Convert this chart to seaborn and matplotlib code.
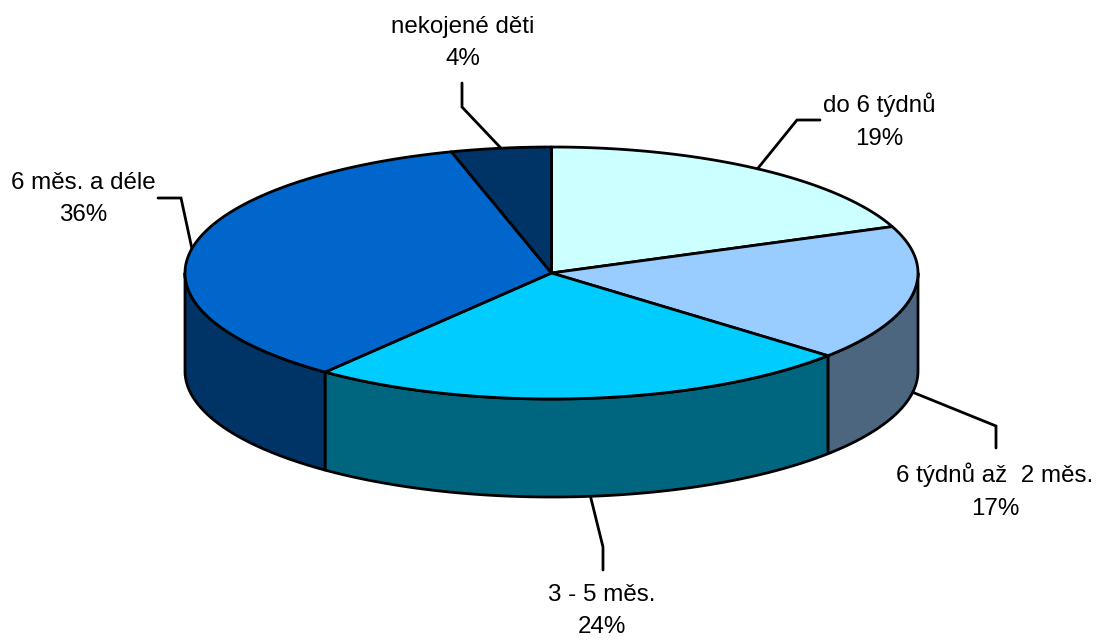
import numpy as np
import matplotlib
matplotlib.use("Agg")
import matplotlib.pyplot as plt
from matplotlib.patches import Polygon
import seaborn as sns

categories = ["do 6 týdnů", "6 týdnů až  2 měs.", "3 - 5 měs.", "6 měs. a déle", "nekojené děti"]
shares = [19.0, 17.4, 24.2, 35.0, 4.4]
percent_labels = ["19%", "17%", "24%", "36%", "4%"]
top_colors = ["#CCFFFF", "#99CCFF", "#00CCFF", "#0066CC", "#003366"]
side_colors = ["#667F80", "#4D6680", "#006680", "#003366", "#001A33"]

CX, CY, RX, RY, DEPTH = 551.5, 273, 366.5, 126, 98
EDGE = 2.0
label_xy = [(879, 121), (995, 491), (602, 611), (83, 199), (463, 43)]
elbows = [[(797, 120), (820, 120)], [(996, 426), (996, 448)], [(603, 547), (603, 570)],
          [(181, 198), (158, 198)], [(462, 107), (462, 83)]]
anchor_shift = [0, 0, -0.7, 0, 0]

sns.set_theme(style="white")
plt.rcParams["font.family"] = ["Liberation Sans", "DejaVu Sans"]


def rim(a, b, dz=0.0):
    t = np.radians(np.linspace(a, b, max(2, int(abs(b - a) * 2) + 1)))
    return np.column_stack([CX + RX * np.sin(t), CY - RY * np.cos(t) + dz])


fig, ax = plt.subplots(figsize=(10.99, 6.44), dpi=100)
fig.subplots_adjust(0, 0, 1, 1)
ax.set_xlim(0, 1099)
ax.set_ylim(644, 0)
ax.axis("off")

edges = np.concatenate([[0], np.cumsum(shares)]) / np.sum(shares) * 360
for i in range(len(shares)):
    a, b = edges[i], edges[i + 1]
    lo, hi = max(a, 90), min(b, 270)
    if lo < hi:
        pts = np.vstack([rim(lo, hi), rim(lo, hi, DEPTH)[::-1]])
        ax.add_patch(Polygon(pts, closed=True, facecolor=side_colors[i], edgecolor="black",
                             linewidth=EDGE, joinstyle="round", zorder=2))
for i in range(len(shares)):
    a, b = edges[i], edges[i + 1]
    pts = np.vstack([[CX, CY], rim(a, b)])
    ax.add_patch(Polygon(pts, closed=True, facecolor=top_colors[i], edgecolor="black",
                         linewidth=EDGE, joinstyle="round", zorder=3))

for i, name in enumerate(categories):
    mid = (edges[i] + edges[i + 1]) / 2 + anchor_shift[i]
    anchor = rim(mid, mid, DEPTH if 90 < mid < 270 else 0)[0]
    path = np.vstack([anchor, elbows[i]])
    ax.plot(path[:, 0], path[:, 1], color="black", lw=EDGE, solid_joinstyle="miter", zorder=1)
    ax.text(label_xy[i][0], label_xy[i][1], name + "\n" + percent_labels[i], ha="center", va="center",
            fontsize=17.4, color="black", linespacing=1.62, zorder=4)

sns.despine(ax=ax, left=True, bottom=True)
fig.savefig("out.png", dpi=100, facecolor="white")
